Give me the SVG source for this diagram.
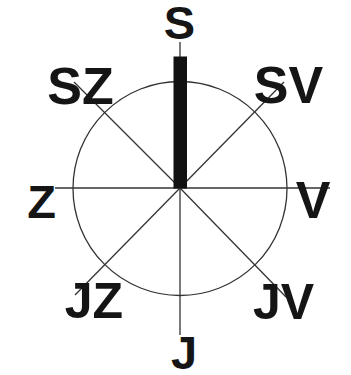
<svg xmlns="http://www.w3.org/2000/svg" width="351" height="375" viewBox="0 0 351 375">
<style>
.ln{stroke:#333;stroke-width:1.3;fill:none}
.lb{font-family:"Liberation Sans",Arial,sans-serif;font-weight:bold;fill:#151515;text-anchor:middle}
</style>
<rect width="351" height="375" fill="#fff"/>
<g id="connectors">
<circle class="ln" cx="180" cy="188.5" r="107"/>
<line class="ln" x1="55" y1="188" x2="330" y2="188"/>
<line class="ln" x1="180" y1="42" x2="180" y2="335"/>
<line class="ln" x1="180" y1="188" x2="74" y2="82"/>
<line class="ln" x1="180" y1="188" x2="284" y2="82"/>
<line class="ln" x1="180" y1="188" x2="75" y2="295"/>
<line class="ln" x1="180" y1="188" x2="286" y2="297"/>
<rect id="bar" x="173.5" y="56.5" width="13.5" height="132" fill="#111"/>
</g>
<g id="S"><text class="lb" x="179.5" y="39" font-size="47">S</text></g>
<g id="SZ"><text class="lb" x="80.5" y="104" font-size="52">SZ</text></g>
<g id="SV"><text class="lb" x="288.5" y="103" font-size="52">SV</text></g>
<g id="Z"><text class="lb" x="41.5" y="218" font-size="47">Z</text></g>
<g id="V"><text class="lb" x="313" y="218" font-size="52">V</text></g>
<g id="JZ"><text class="lb" x="94" y="318" font-size="50">JZ</text></g>
<g id="JV"><text class="lb" x="283.5" y="319" font-size="50">JV</text></g>
<g id="J"><text class="lb" x="184" y="369" font-size="47">J</text></g>
</svg>
